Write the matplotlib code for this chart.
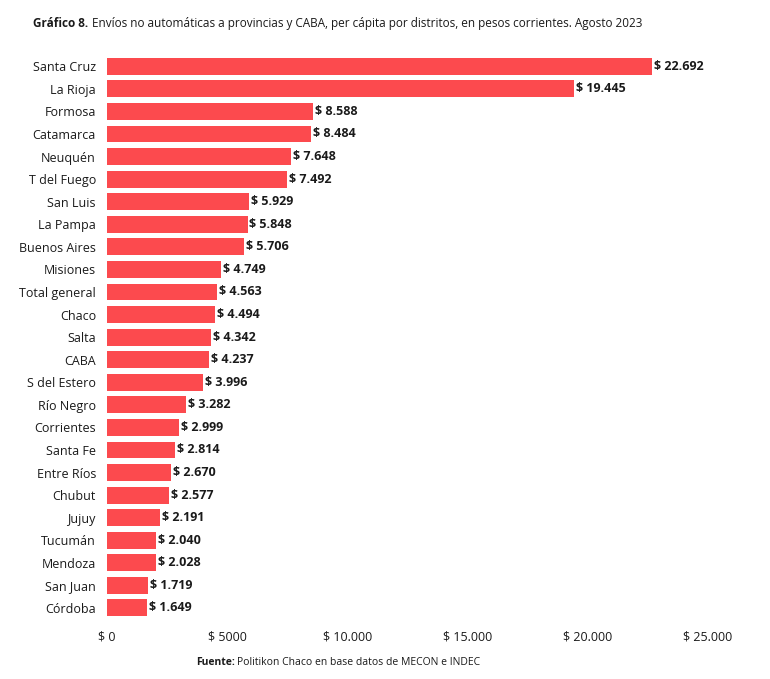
import matplotlib.pyplot as plt
from matplotlib.ticker import FuncFormatter

plt.rcParams['font.family'] = ['Open Sans', 'DejaVu Sans']
plt.rcParams['text.color'] = '#1a1a1a'

districts = ["Santa Cruz", "La Rioja", "Formosa", "Catamarca", "Neuquén", "T del Fuego",
             "San Luis", "La Pampa", "Buenos Aires", "Misiones", "Total general", "Chaco",
             "Salta", "CABA", "S del Estero", "Río Negro", "Corrientes", "Santa Fe",
             "Entre Ríos", "Chubut", "Jujuy", "Tucumán", "Mendoza", "San Juan", "Córdoba"]
values = [22692, 19445, 8588, 8484, 7648, 7492, 5929, 5848, 5706, 4749, 4563, 4494,
          4342, 4237, 3996, 3282, 2999, 2814, 2670, 2577, 2191, 2040, 2028, 1719, 1649]

def fmt(v):
    return "{:,}".format(int(v)).replace(",", ".")

fig = plt.figure(figsize=(7.7, 6.79), dpi=100)
ax = fig.add_axes([0.139, 0.088, 0.78, 0.831])
ypos = list(range(len(values)))[::-1]
ax.barh(ypos, values, height=0.75, color='#fc4a4e')
for y, v in zip(ypos, values):
    ax.text(v + 80, y, "$ " + fmt(v), va='center', ha='left', fontsize=9, fontweight='bold')
ax.set_yticks(ypos)
ax.set_yticklabels(districts, fontsize=9, color='#1a1a1a')
ax.set_ylim(-0.5, len(values) - 0.5)
ax.set_xlim(0, 25000)
ax.set_xticks([0, 5000, 10000, 15000, 20000, 25000])
ax.xaxis.set_major_formatter(FuncFormatter(lambda v, p: "$ " + (fmt(v) if v >= 10000 else str(int(v)))))
ax.tick_params(axis='x', labelsize=9, length=0, pad=8, labelcolor='#1a1a1a')
ax.tick_params(axis='y', length=0, pad=8)
for s in ax.spines.values():
    s.set_visible(False)

fig.text(0.043, 0.965, "Gráfico 8.", fontsize=8.5, va='center', fontweight='bold')
fig.text(0.12, 0.965, "Envíos no automáticas a provincias y CABA, per cápita por distritos, en pesos corrientes. Agosto 2023",
         fontsize=8.5, va='center')
fig.text(0.255, 0.025, "Fuente:", fontsize=7.5, va='center', fontweight='bold')
fig.text(0.308, 0.025, "Politikon Chaco en base datos de MECON e INDEC", fontsize=7.5, va='center')

fig.savefig("out.png", dpi=100)
